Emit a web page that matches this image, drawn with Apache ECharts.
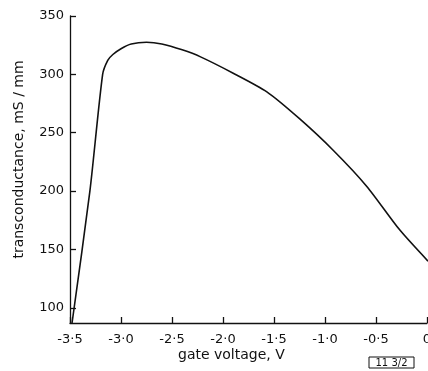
<!DOCTYPE html>
<html>
<head>
<meta charset="utf-8">
<script src="https://cdn.jsdelivr.net/npm/echarts@6/dist/echarts.min.js"></script>
<style>
  html, body { margin: 0; padding: 0; background: #fff; }
  #chart { width: 428px; height: 371px; }
</style>
</head>
<body>
<div id="chart"></div>
<script>
// gate voltage (V) vs transconductance (mS/mm)
const gateVoltage = [-3.48, -3.305, -3.18, -3.13, -3.08, -3.00, -2.90, -2.75, -2.60, -2.40, -2.22, -1.90, -1.57, -1.25, -0.92, -0.59, -0.27, 0.01];
const transconductance = [87, 200, 300, 312, 317, 322, 326, 327.5, 326, 321, 315, 301, 285, 262, 235, 204, 167, 140];
const yTicks = [100, 150, 200, 250, 300, 350];

const FONT = "DejaVu Sans";
const chart = echarts.init(document.getElementById("chart"), null, { renderer: "canvas" });

const fmtVolt = (v) => (v === 0 ? "0" : v.toFixed(1).replace(".", "·"));

chart.setOption({
  backgroundColor: "#fff",
  animation: false,
  grid: { left: 70, right: 1, top: 16, bottom: 48, outerBoundsMode: "none" },
  xAxis: {
    type: "value",
    min: -3.5,
    max: 0,
    interval: 0.5,
    axisLine: { show: true, onZero: false, lineStyle: { color: "#111", width: 1.3 } },
    axisTick: { show: true, inside: true, length: 6, lineStyle: { color: "#111", width: 1.3 } },
    axisLabel: {
      color: "#111", fontFamily: FONT, fontSize: 13, margin: 10,
      formatter: fmtVolt
    },
    splitLine: { show: false }
  },
  yAxis: {
    type: "value",
    min: 87,
    max: 350,
    name: "transconductance, mS / mm",
    nameLocation: "middle",
    nameGap: 44,
    nameTextStyle: { color: "#111", fontFamily: FONT, fontSize: 14, padding: [0, 0, 0, 20] },
    axisLine: { show: true, onZero: false, lineStyle: { color: "#111", width: 1.3 } },
    axisTick: { show: true, inside: true, length: 6, customValues: yTicks, lineStyle: { color: "#111", width: 1.3 } },
    axisLabel: {
      color: "#111", fontFamily: FONT, fontSize: 13, margin: 6,
      customValues: yTicks
    },
    splitLine: { show: false }
  },
  graphic: [
    {
      type: "text", left: 178, top: 348,
      style: { text: "gate voltage, V", fill: "#111", font: "14px " + FONT }
    },
    {
      type: "rect", shape: { x: 369, y: 357, width: 45, height: 11 },
      style: { fill: "none", stroke: "#111", lineWidth: 1 }
    },
    {
      type: "text", x: 391.5, y: 363,
      style: { text: "11 3/2", fill: "#111", font: "10px " + FONT, align: "center", verticalAlign: "middle" }
    }
  ],
  series: [
    {
      type: "line",
      data: gateVoltage.map((v, i) => [v, transconductance[i]]),
      smooth: 0.25,
      symbol: "none",
      clip: true,
      lineStyle: { color: "#111", width: 1.6 }
    }
  ]
});
</script>
</body>
</html>
